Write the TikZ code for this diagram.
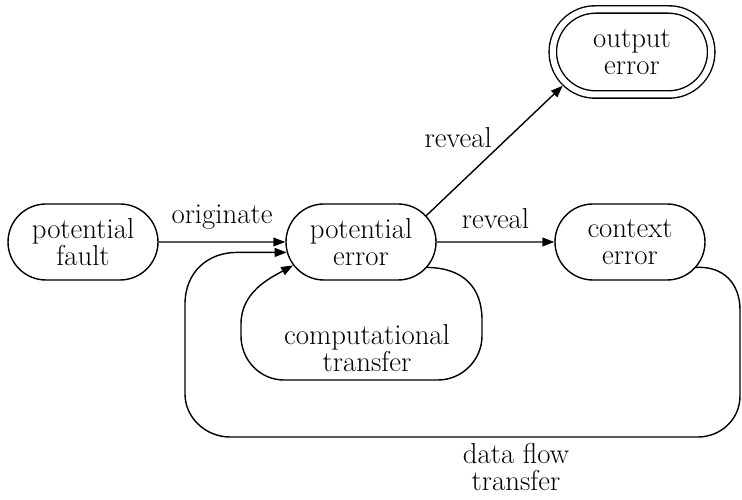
\documentclass[tikz,border=0pt]{standalone}
\usetikzlibrary{shapes.misc,arrows.meta}
\newcommand{\bigfont}{\fontsize{20.5}{19}\selectfont}
\begin{document}
\begin{tikzpicture}[
    errstate/.style={draw, line width=1pt, rounded rectangle, align=center,
      minimum width=3.75cm, minimum height=1.9cm, inner sep=0pt, font=\bigfont},
    flow/.style={-{Triangle[length=0.3cm,width=0.22cm]}, line width=1pt},
    lbl/.style={font=\bigfont, align=center}
  ]
    \useasboundingbox (0, 0) rectangle (18.55, 12.5);
    % potential fault
    \node[errstate] (pf) at (2.075, 6.45) {potential\\fault};
    % potential error
    \node[errstate] (pe) at (9.025, 6.45) {potential\\error};
    % context error
    \node[errstate] (ce) at (15.75, 6.45) {context\\error};
    % output error
    \node[errstate, double, double distance=0.15cm, minimum width=3.96cm,
      minimum height=2.125cm, outer sep=0.11cm] (oe) at (15.8, 11.2) {output\\error};
    % originate and reveal
    \draw[flow] (pf) -- node[lbl, above=0.18cm] {originate} (pe);
    \draw[flow] (pe) -- node[lbl, above=0.2cm] {reveal} (ce);
    \draw[flow] (pe.22) -- node[lbl, anchor=south east, inner sep=0.05cm] {reveal} (oe.206);
    % computational transfer
    \draw[flow] (pe.-21) .. controls (11.6, 5.8) and (12.05, 5.3) .. (12.05, 4.5)
      -- (12.05, 4.1) .. controls (12.05, 3.5) and (11.55, 3.0) .. (10.95, 3.0)
      -- (7.1, 3.0) .. controls (6.5, 3.0) and (6.025, 3.5) .. (6.025, 4.1)
      -- (6.025, 4.4) .. controls (6.025, 5.2) and (6.75, 5.55) .. (pe.199);
    \node[lbl] (ct) at (9.175, 3.8) {computational\\transfer};
    % data flow transfer
    \draw[flow] (ce.-21) .. controls (18.1, 5.85) and (18.5, 5.4) .. (18.5, 4.75)
      -- (18.5, 2.6) .. controls (18.5, 2.0) and (18.0, 1.575) .. (17.45, 1.575)
      -- (5.75, 1.575) .. controls (5.15, 1.575) and (4.625, 2.05) .. (4.625, 2.65)
      -- (4.625, 4.9) .. controls (4.625, 5.7) and (5.2, 6.19) .. ([xshift=-1.25cm]pe.188)
      -- (pe.188);
    \node[lbl] (dft) at (12.9, 0.825) {data flow\\transfer};
\end{tikzpicture}
\end{document}
